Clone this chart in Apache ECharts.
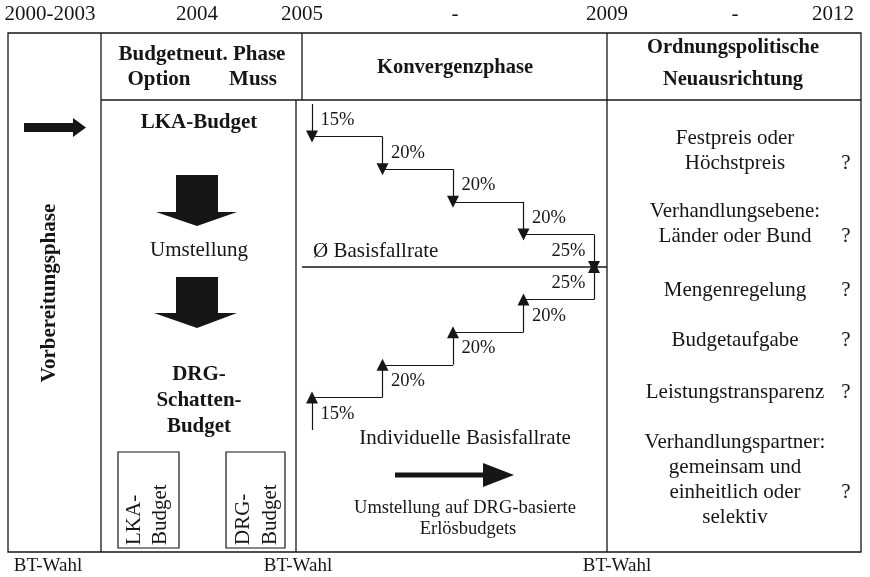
<!DOCTYPE html>
<html>
<head>
<meta charset="utf-8">
<script src="https://cdn.jsdelivr.net/npm/echarts@6/dist/echarts.min.js"></script>
<style>
    html, body { margin: 0; padding: 0; background: #fff; }
    #main { width: 870px; height: 577px; }
</style>
</head>
<body>
<div id="main"></div>
<script>
    // ---- data ----
    var yearLabels = ['2000-2003', '2004', '2005', '-', '2009', '-', '2012'];
    var electionLabel = 'BT-Wahl';
    var downSteps = ['15%', '20%', '20%', '20%', '25%'];   // Annaeherung von oben
    var upSteps = ['15%', '20%', '20%', '20%', '25%'];     // Annaeherung von unten
    var phaseHeaders = [['Budgetneut. Phase'], ['Konvergenzphase'], ['Ordnungspolitische', 'Neuausrichtung']];
    var budgetFlow = ['LKA-Budget', 'Umstellung', 'DRG-', 'Schatten-', 'Budget'];
    var reformItems = [
      ['Festpreis oder', 'Höchstpreis'],
      ['Verhandlungsebene:', 'Länder oder Bund'],
      ['Mengenregelung'],
      ['Budgetaufgabe'],
      ['Leistungstransparenz'],
      ['Verhandlungspartner:', 'gemeinsam und', 'einheitlich oder', 'selektiv']
    ];
    var reformQuestionLine = [1, 1, 0, 0, 0, 2];

    // ---- layout ----
    var FONT = '"Liberation Serif", "Times New Roman", serif';
    var INK = '#161616';
    var yearX = [50, 197, 302, 455, 607, 735, 833];
    var electionX = [48, 298, 617];
    var itemY = [138, 211, 290, 340, 392, 442];

    var myChart = echarts.init(document.getElementById('main'));

    var g = [];
    function txt(x, y, s, o) {
      o = o || {};
      g.push({
        type: 'text', x: x, y: y, rotation: o.rot || 0, z: 10,
        style: {
          text: s, fill: INK, font: (o.bold ? 'bold ' : '') + (o.size || 21) + 'px ' + FONT,
          textAlign: o.align || 'center', textVerticalAlign: 'middle'
        }
      });
    }
    function ln(x1, y1, x2, y2, w) {
      g.push({ type: 'line', shape: { x1: x1, y1: y1, x2: x2, y2: y2 }, style: { stroke: INK, lineWidth: w || 1.3 } });
    }
    function poly(pts) {
      g.push({ type: 'polygon', shape: { points: pts }, style: { fill: INK } });
    }

    // frame
    g.push({ type: 'rect', shape: { x: 8, y: 33, width: 853, height: 519 }, style: { fill: 'none', stroke: INK, lineWidth: 1.3 } });
    ln(101, 33, 101, 552);
    ln(101, 100, 861, 100);
    ln(302, 33, 302, 100);
    ln(296, 100, 296, 552);
    ln(607, 33, 607, 552);
    ln(302, 267, 607, 267);

    // years + elections
    yearLabels.forEach(function (s, i) { txt(yearX[i], 14, s); });
    electionX.forEach(function (x) { txt(x, 566, electionLabel, { size: 19 }); });

    // headers
    txt(202, 55, phaseHeaders[0][0], { bold: true });
    txt(159, 80, 'Option', { bold: true });
    txt(253, 80, 'Muss', { bold: true });
    txt(455, 68, phaseHeaders[1][0], { bold: true, size: 20.5 });
    txt(733, 48, phaseHeaders[2][0], { bold: true, size: 20.5 });
    txt(733, 80, phaseHeaders[2][1], { bold: true, size: 20.5 });

    // column 1
    txt(50, 293, 'Vorbereitungsphase', { bold: true, rot: Math.PI / 2 });
    poly([[24, 123], [73, 123], [73, 118], [86, 127.5], [73, 137], [73, 132], [24, 132]]);

    // column 2
    txt(199, 123, budgetFlow[0], { bold: true });
    poly([[176, 175], [218, 175], [218, 212], [237, 212], [197, 226], [156, 212], [176, 212]]);
    txt(199, 250, budgetFlow[1]);
    poly([[176, 277], [218, 277], [218, 313], [237, 313], [197, 328], [154, 313], [176, 313]]);
    txt(199, 375, budgetFlow[2], { bold: true });
    txt(199, 401, budgetFlow[3], { bold: true });
    txt(199, 427, budgetFlow[4], { bold: true });
    g.push({ type: 'rect', shape: { x: 118, y: 452, width: 61, height: 96 }, style: { fill: 'none', stroke: INK, lineWidth: 1.2 } });
    g.push({ type: 'rect', shape: { x: 226, y: 452, width: 59, height: 96 }, style: { fill: 'none', stroke: INK, lineWidth: 1.2 } });
    txt(134, 545, 'LKA-', { rot: Math.PI / 2, align: 'left' });
    txt(160, 545, 'Budget', { rot: Math.PI / 2, align: 'left' });
    txt(243, 545, 'DRG-', { rot: Math.PI / 2, align: 'left' });
    txt(270, 545, 'Budget', { rot: Math.PI / 2, align: 'left' });

    // column 3
    txt(313, 251, 'Ø Basisfallrate', { align: 'left' });
    txt(465, 438, 'Individuelle Basisfallrate');
    poly([[395, 472.5], [483, 472.5], [483, 463], [514, 475], [483, 487], [483, 477.5], [395, 477.5]]);
    txt(465, 508, 'Umstellung auf DRG-basierte', { size: 18.5 });
    txt(468, 529, 'Erlösbudgets', { size: 18.5 });

    // column 4
    reformItems.forEach(function (lines, k) {
      lines.forEach(function (s, j) {
        txt(735, itemY[k] + j * 25.3, s);
      });
      txt(846, itemY[k] + reformQuestionLine[k] * 25.3, '?');
    });

    // ---- staircases (x: step index, y: level relative to Ø Basisfallrate) ----
    var arrows = [], treads = [], labels = [];
    var n = downSteps.length;
    function stepLabel(x, y, p, last) {
      return {
        value: [x, y], name: p,
        label: { position: last ? 'left' : 'right', color: INK, opacity: 1 }
      };
    }
    downSteps.forEach(function (p, i) {
      var top = n - i;
      arrows.push({ coords: [[i, top], [i, top - 1]] });
      if (i < n - 1) treads.push({ coords: [[i, top - 1], [i + 1, top - 1]] });
      labels.push(stepLabel(i, top - 0.5, p, i === n - 1));
    });
    upSteps.forEach(function (p, i) {
      var bot = -n + i;
      arrows.push({ coords: [[i, bot], [i, bot + 1]] });
      if (i < n - 1) treads.push({ coords: [[i, bot + 1], [i + 1, bot + 1]] });
      labels.push(stepLabel(i, bot + 0.5, p, i === n - 1));
    });

    var option = {
      backgroundColor: '#fff',
      animation: false,
      graphic: { elements: g },
      grid: { left: 312, top: 104, width: 282, height: 326 },
      xAxis: { type: 'value', min: 0, max: n - 1, show: false },
      yAxis: { type: 'value', min: -n, max: n, show: false },
      series: [
        {
          type: 'lines', coordinateSystem: 'cartesian2d', clip: false,
          symbol: ['none', 'triangle'], symbolSize: 12,
          lineStyle: { color: INK, width: 1.2, opacity: 1 },
          itemStyle: { color: INK },
          data: arrows
        },
        {
          type: 'lines', coordinateSystem: 'cartesian2d', clip: false,
          symbol: 'none',
          lineStyle: { color: INK, width: 1.2, opacity: 1 },
          data: treads
        },
        {
          type: 'scatter', symbol: 'circle', symbolSize: 1, clip: false,
          itemStyle: { color: 'rgba(0,0,0,0)', opacity: 1 },
          label: {
            show: true, formatter: '{b}', distance: 8,
            color: INK, fontFamily: FONT, fontSize: 18.5, opacity: 1
          },
          data: labels
        }
      ]
    };
    myChart.setOption(option);
</script>
</body>
</html>
